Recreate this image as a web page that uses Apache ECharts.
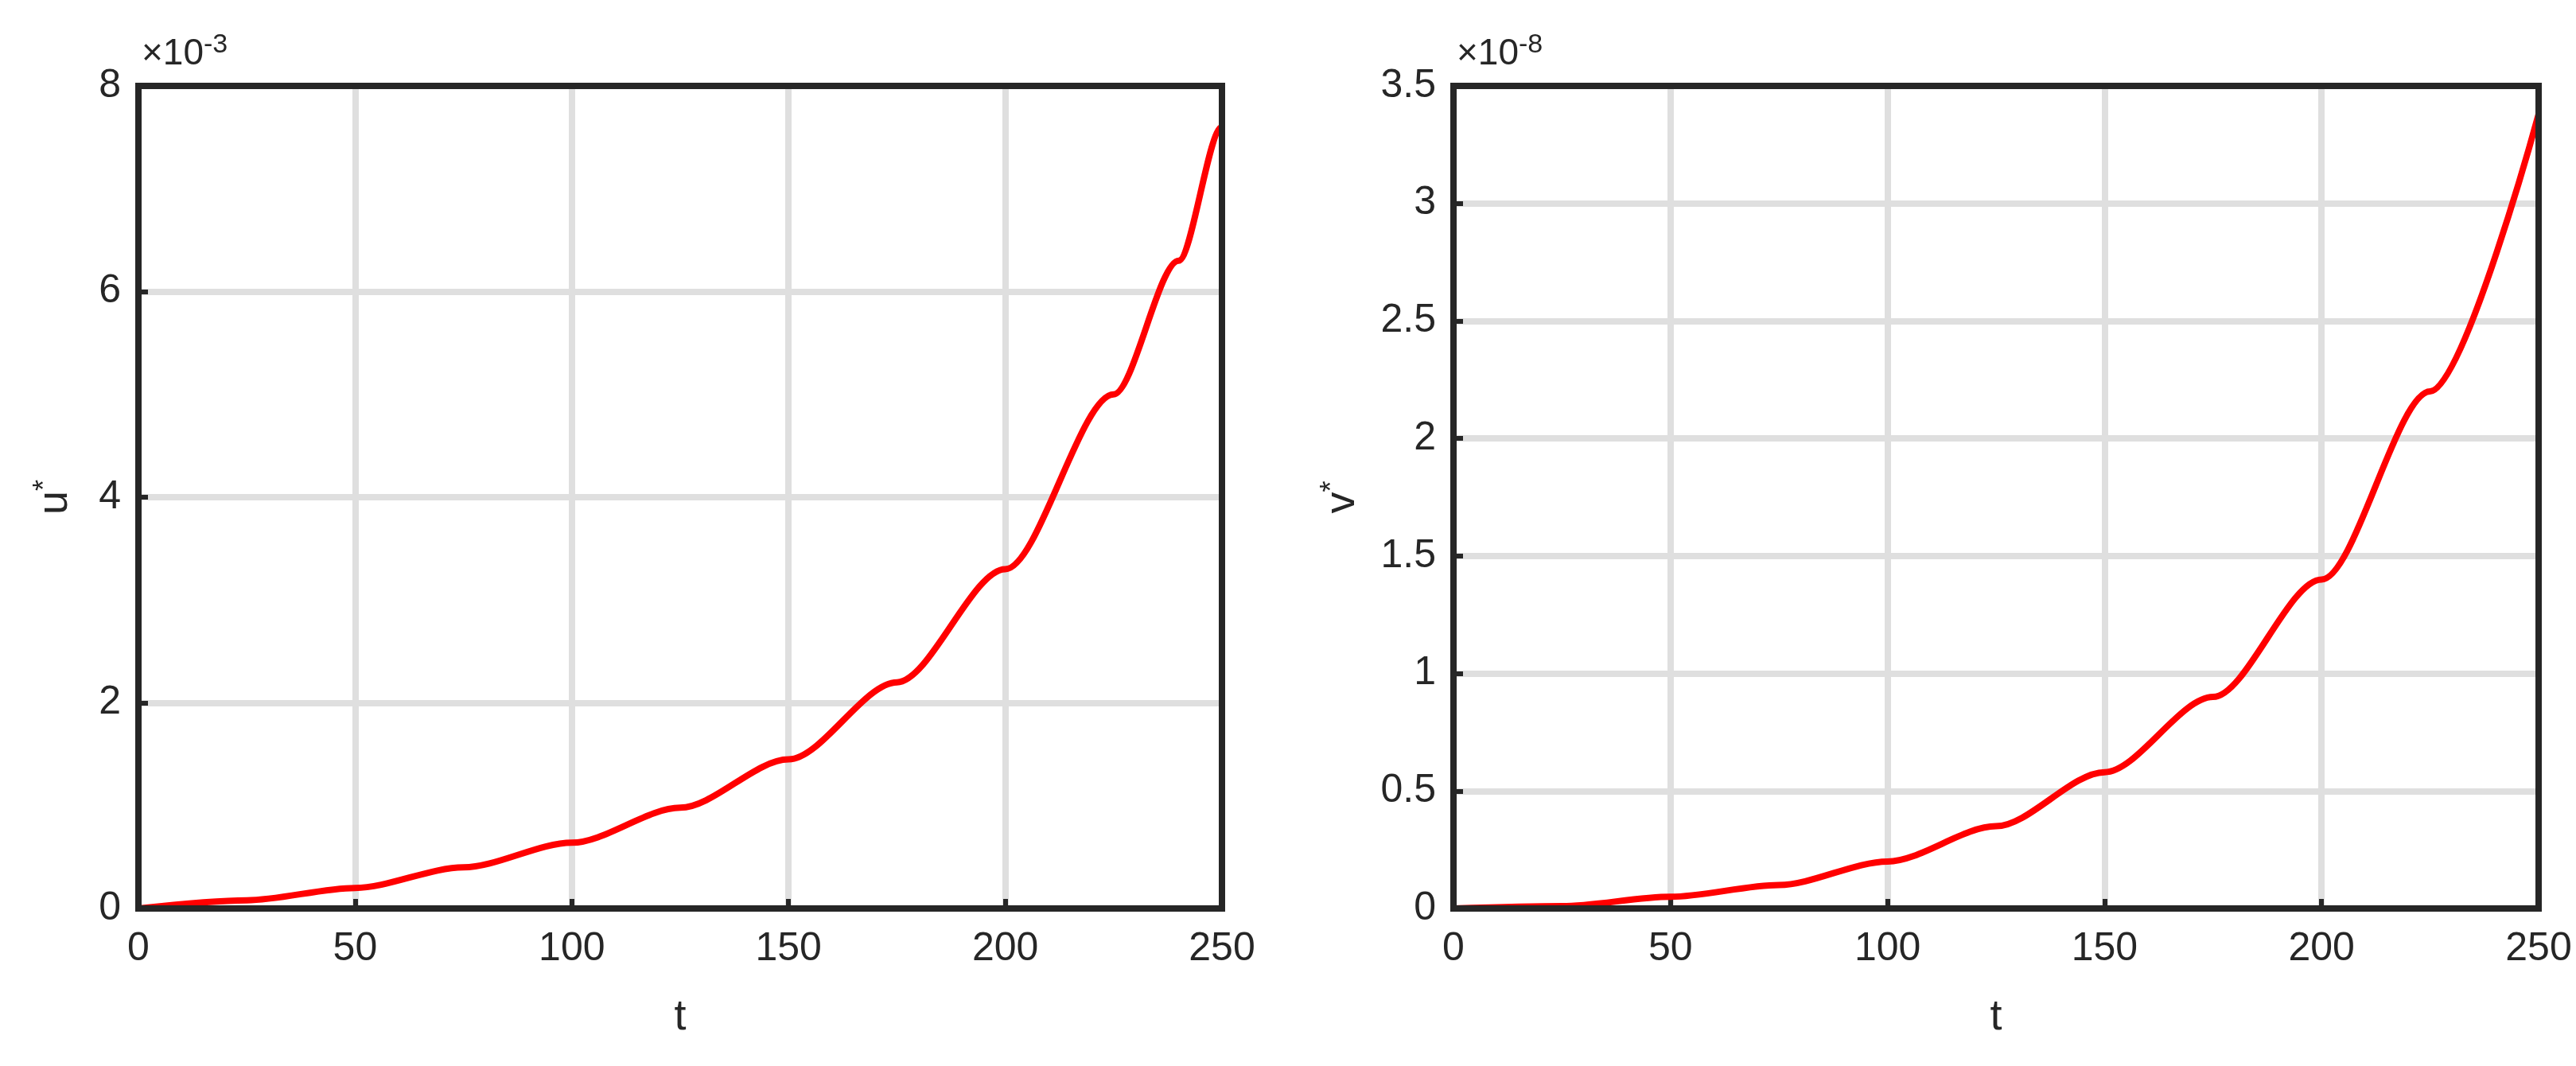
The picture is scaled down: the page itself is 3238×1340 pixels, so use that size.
<!DOCTYPE html>
<html><head><meta charset="utf-8">
<script src="https://cdn.jsdelivr.net/npm/echarts@6/dist/echarts.min.js"></script>
<style>html,body{margin:0;padding:0;background:#fff}#c{width:3238px;height:1340px}</style>
</head><body><div id="c"></div>
<script>
const tU = [0, 25, 50, 75, 100, 125, 150, 175, 200, 225, 240, 250, 250];
const uVals = [0, 0.08, 0.2, 0.4, 0.64, 0.98, 1.45, 2.2, 3.3, 5.0, 6.3, 7.6, 8.0]; // x1e-3
const tV = [0, 25, 50, 75, 100, 125, 150, 175, 200, 225, 250];
const vVals = [0, 0.01, 0.05, 0.1, 0.2, 0.35, 0.58, 0.9, 1.4, 2.2, 3.38]; // x1e-8
const xTicks = [0, 50, 100, 150, 200, 250];

const font = 'Liberation Sans, Arial, sans-serif';
const chart = echarts.init(document.getElementById('c'));
function xAxis(i){return {gridIndex:i,type:'value',min:0,max:250,interval:50,name:'t',nameLocation:'middle',nameGap:110,
  nameTextStyle:{fontSize:54,color:'#262626',fontFamily:font},
  axisLine:{show:false},axisTick:{inside:true,length:12,lineStyle:{color:'#262626',width:6}},
  axisLabel:{fontSize:50,color:'#262626',fontFamily:font,margin:26},
  splitLine:{show:true,lineStyle:{color:'#dfdfdf',width:8}}};}
function yAxis(i,max,intv,nm,gap){return {gridIndex:i,type:'value',min:0,max:max,interval:intv,name:'{a|'+nm+'}{b|*}',nameLocation:'middle',nameGap:gap,nameRotate:90,
  nameTextStyle:{rich:{a:{fontSize:54,color:'#262626',fontFamily:font},b:{fontSize:36,color:'#262626',fontFamily:font,verticalAlign:'top',padding:[0,0,24,0]}}},
  axisLine:{show:false},axisTick:{inside:true,length:12,lineStyle:{color:'#262626',width:6}},
  axisLabel:{fontSize:50,color:'#262626',fontFamily:font,margin:22},
  splitLine:{show:true,lineStyle:{color:'#dfdfdf',width:8}}};}
const expStyle = t => ({text:'×10{s|'+t+'}',fontSize:46,fill:'#262626',fontFamily:font,rich:{s:{fontSize:34,verticalAlign:'top',fill:'#262626',fontFamily:font,padding:[0,0,22,0]}}});
chart.setOption({
  animation:false,
  grid:[{left:174,top:108,width:1362,height:1034,show:true,borderColor:'#262626',borderWidth:8,z:10},
        {left:1827,top:108,width:1364,height:1034,show:true,borderColor:'#262626',borderWidth:8,z:10}],
  xAxis:[xAxis(0),xAxis(1)],
  yAxis:[yAxis(0,8,2,'u',75),yAxis(1,3.5,0.5,'v',110)],
  graphic:[
    {type:'text',left:178,top:40,style:expStyle('-3')},
    {type:'text',left:1831,top:40,style:expStyle('-8')}
  ],
  series:[
    {type:'line',xAxisIndex:0,yAxisIndex:0,data:tU.map((t,i)=>[t,uVals[i]]),smooth:0.3,smoothMonotone:'x',showSymbol:false,lineStyle:{color:'#ff0000',width:8},z:5},
    {type:'line',xAxisIndex:1,yAxisIndex:1,data:tV.map((t,i)=>[t,vVals[i]]),smooth:0.3,smoothMonotone:'x',showSymbol:false,lineStyle:{color:'#ff0000',width:8},z:5}
  ]
});
</script></body></html>
